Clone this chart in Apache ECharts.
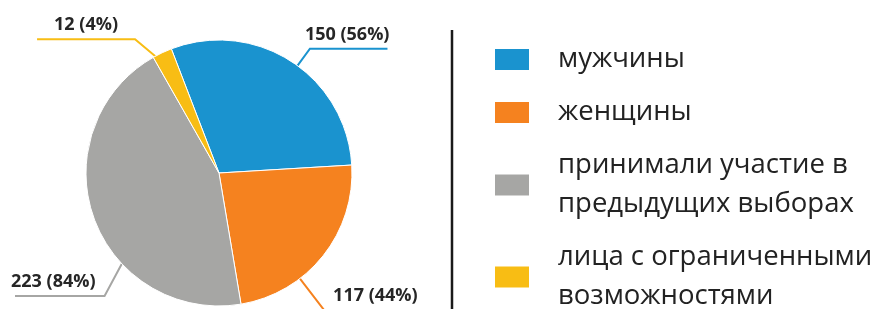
<!DOCTYPE html>
<html lang="ru">
<head>
  <meta charset="UTF-8">
  <title>Состав</title>
  <style>
    html, body { margin: 0; padding: 0; background: #fff; }
    #chart { width: 875px; height: 309px; }
  </style>
</head>
<body>
  <div id="chart"></div>
  <script src="https://cdn.jsdelivr.net/npm/echarts@6/dist/echarts.min.js"></script>
  <script>
    var categories = ['мужчины', 'женщины', 'принимали участие в\nпредыдущих выборах', 'лица с ограниченными\nвозможностями'];
    var values = [150, 117, 223, 12];
    var percentLabels = ['56%', '44%', '84%', '4%'];
    var colors = ['#1a93cf', '#f5821f', '#a6a6a4', '#f8bd14'];

    // pie geometry
    var pieCenter = [219, 173];
    var pieRadius = 133;
    var startAngle = 111;
    // label lines: shift of the anchor from the mid angle, turn of the bend, length
    var labelShift = [-3.4, -14, 23.5, 3.3];
    var bendTurn = [0, 0, 4, 3.5];
    var labelLen = [21, 43, 35, 25];
    // text offset from the bend, lift above the line, and how far the line runs past the text
    var labelGap = [-5, 7, 9, 17];
    var labelLift = [5, 8, 5, 5];
    var lineTail = [-2, 4, -4, 17];

    var chart = echarts.init(document.getElementById('chart'));

    var total = values.reduce(function (a, b) { return a + b; }, 0);
    var midAngles = [];
    var acc = startAngle;
    values.forEach(function (v) {
      var span = v / total * 360;
      midAngles.push(acc - span / 2);
      acc -= span;
    });

    var pieData = categories.map(function (name, i) {
      return { name: name, value: values[i] };
    });

    function polar(r, deg) {
      var a = deg * Math.PI / 180;
      return [pieCenter[0] + r * Math.cos(a), pieCenter[1] - r * Math.sin(a)];
    }

    var option = {
      animation: false,
      color: colors,
      legend: {
        orient: 'vertical',
        left: 488,
        top: 35,
        height: 300,
        itemWidth: 36,
        itemHeight: 23,
        itemGap: 14,
        icon: 'rect',
        selectedMode: false,
        data: categories,
        textStyle: {
          fontFamily: 'Open Sans',
          fontSize: 27.5,
          color: '#222',
          lineHeight: 39,
          padding: [0, 0, 0, 23]
        }
      },
      graphic: [{
        type: 'line',
        shape: { x1: 452, y1: 30, x2: 452, y2: 320 },
        style: { stroke: '#1a1a1a', lineWidth: 2.5 }
      }],
      series: [{
        type: 'pie',
        center: pieCenter,
        radius: pieRadius,
        startAngle: startAngle,
        avoidLabelOverlap: false,
        emphasis: { disabled: true },
        itemStyle: { borderColor: '#fff', borderWidth: 1 },
        label: {
          position: 'outside',
          fontFamily: 'Open Sans',
          fontWeight: 'bold',
          fontSize: 18,
          color: '#262626',
          formatter: function (p) {
            return p.value + ' (' + percentLabels[p.dataIndex] + ')';
          }
        },
        labelLine: { show: true, length: 20, length2: 10, lineStyle: { width: 2 } },
        labelLayout: function (params) {
          var i = params.dataIndex;
          var anchor = midAngles[i] + labelShift[i];
          var p0 = polar(pieRadius, anchor);
          var p1 = polar(pieRadius + labelLen[i], anchor + bendTurn[i]);
          var dir = p1[0] >= pieCenter[0] ? 1 : -1;
          var w = params.labelRect.width;
          return {
            x: p1[0] + dir * labelGap[i],
            y: p1[1] - labelLift[i],
            align: dir > 0 ? 'left' : 'right',
            verticalAlign: 'bottom',
            labelLinePoints: [p0, p1, [p1[0] + dir * (labelGap[i] + w + lineTail[i]), p1[1]]]
          };
        },
        data: pieData
      }]
    };

    chart.setOption(option);
  </script>
</body>
</html>
